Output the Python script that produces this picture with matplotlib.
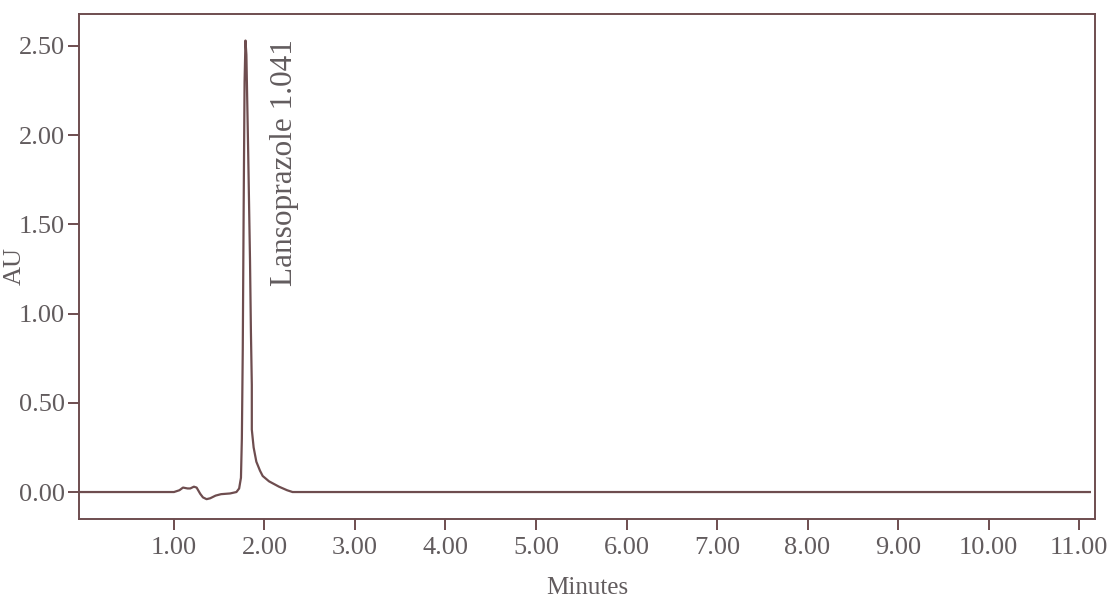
import matplotlib
matplotlib.use("Agg")
import matplotlib.pyplot as plt

# chromatogram trace (minutes, AU)
minutes = [-0.05, 0.50, 1.00, 1.06, 1.10, 1.15, 1.18, 1.22, 1.25, 1.29, 1.32,
           1.36, 1.40, 1.46, 1.52, 1.62, 1.69, 1.72, 1.74, 1.75, 1.76, 1.77,
           1.78, 1.79, 1.80, 1.82, 1.84, 1.85, 1.86, 1.86, 1.88, 1.91, 1.95,
           1.98, 2.05, 2.16, 2.25, 2.31, 3.00, 5.00, 8.00, 11.12]
absorbance = [0.0, 0.0, 0.0, 0.01, 0.025, 0.02, 0.02, 0.03, 0.025, -0.01, -0.03,
              -0.04, -0.035, -0.02, -0.012, -0.008, 0.0, 0.02, 0.08, 0.3, 0.8, 1.6,
              2.3, 2.53, 2.45, 1.9, 1.3, 0.9, 0.6, 0.35, 0.25, 0.17, 0.12,
              0.09, 0.06, 0.03, 0.01, 0.0, 0.0, 0.0, 0.0, 0.0]
x_ticks = [1, 2, 3, 4, 5, 6, 7, 8, 9, 10, 11]
y_ticks = [0.0, 0.5, 1.0, 1.5, 2.0, 2.5]
peak_label = "Lansoprazole 1.041"
peak_time = 1.79
peak_height = 2.53

line_col = "#6e4d4f"
text_col = "#625c5e"

plt.rcParams['font.family'] = ['Liberation Serif', 'DejaVu Serif']

fig = plt.figure(figsize=(11.12, 5.99), dpi=100)
ax = fig.add_axes([0.071, 0.1336, 0.914, 0.8434])

ax.plot(minutes, absorbance, color=line_col, linewidth=1.6)

ax.set_xlim(-0.05, 11.18)
ax.set_ylim(-0.151, 2.68)
ax.set_xticks(x_ticks)
ax.set_xticklabels([f"{v:.2f}" for v in x_ticks])
ax.set_yticks(y_ticks)
ax.set_yticklabels([f"{v:.2f}" for v in y_ticks])

for s in ax.spines.values():
    s.set_color(line_col)
    s.set_linewidth(1.4)
ax.tick_params(axis='both', direction='out', length=8, width=1.4,
               color=line_col, labelcolor=text_col, labelsize=19, pad=2)
ax.tick_params(axis='x', pad=5)

ax.set_xlabel("Minutes", fontsize=18, color=text_col)
ax.xaxis.set_label_coords(0.5, -0.115)
ax.set_ylabel("AU", fontsize=19, color=text_col)
ax.yaxis.set_label_coords(-0.052, 0.50)

ax.text(peak_time + 0.43, peak_height + 0.01, peak_label, rotation=90,
        ha='center', va='top', fontsize=22.5, color=text_col)

fig.savefig("out.png", dpi=100)
plt.close(fig)
